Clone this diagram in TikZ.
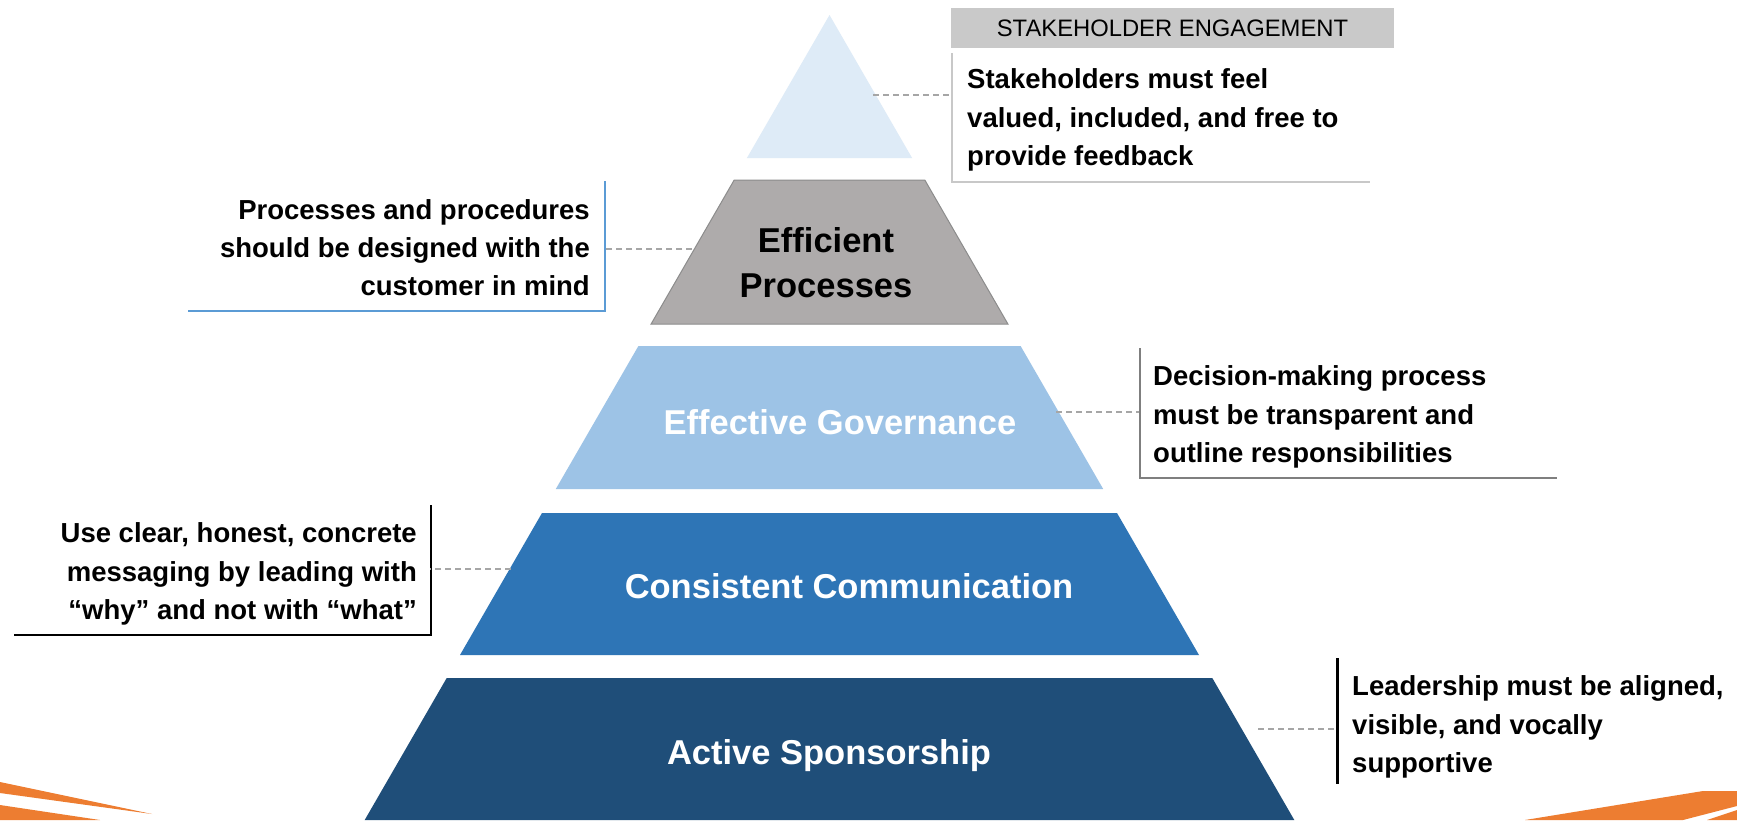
\documentclass[tikz,border=0pt]{standalone}
\usepackage{fontspec}
\setmainfont{Liberation Sans}
\definecolor{layA}{HTML}{DEEBF7}
\definecolor{layB}{HTML}{AEABAB}
\definecolor{layBedge}{HTML}{8C8C8C}
\definecolor{layC}{HTML}{9DC3E6}
\definecolor{layD}{HTML}{2E75B6}
\definecolor{layE}{HTML}{1F4E79}
\definecolor{accent}{HTML}{ED7D31}
\definecolor{leadgray}{HTML}{A6A6A6}
\definecolor{hdrgray}{HTML}{C9C9C9}
\definecolor{ruleA}{HTML}{C8C8C8}
\definecolor{ruleB}{HTML}{5B9BD5}
\definecolor{ruleC}{HTML}{7F7F7F}
\begin{document}
\begin{tikzpicture}[x=1pt,y=-1pt,
  desc/.style={inner sep=0pt, text=black, font=\fontsize{27.5}{38.2}\selectfont\bfseries},
  lbl/.style={inner sep=0pt, font=\fontsize{34.5}{45}\selectfont\bfseries},
  leader/.style={draw=leadgray, line width=2pt, dash pattern=on 6pt off 4pt},
  sidebar/.style={line width=2.5pt}]
% canvas
\fill[white] (0,0) rectangle (1737,820);
\useasboundingbox (0,0) rectangle (1737,820);

% corner accents
\fill[accent] (0,782) -- (152,814) -- (0,793) -- cycle;
\fill[accent] (0,805) -- (100,820) -- (0,820) -- cycle;
\fill[accent] (1525,820) -- (1703,791) -- (1737,791) -- (1737,806) -- (1683,820) -- cycle;
\fill[accent] (1707,820) -- (1737,810) -- (1737,820) -- cycle;

% pyramid bands (apex 829.5,15; sides at 60 degrees)
\fill[layA] (829.5,15) -- (912.1,158) -- (746.9,158) -- cycle;
\filldraw[fill=layB, draw=layBedge, line width=1pt] (734.2,180) -- (924.8,180) -- (1007.9,324) -- (651.1,324) -- cycle;
\fill[layC] (638.4,346) -- (1020.6,346) -- (1103.2,489) -- (555.8,489) -- cycle;
\fill[layD] (542,513) -- (1117,513) -- (1199,655) -- (460,655) -- cycle;
\fill[layE] (446.7,678) -- (1212.3,678) -- (1294.3,820) -- (364.7,820) -- cycle;

% band titles
\node[lbl, text=black, align=center] (effproc) at (826,265.5) {\strut Efficient\\\strut Processes};
\node[lbl, text=white, anchor=base] (effgov) at (840,434) {Effective Governance};
\node[lbl, text=white, anchor=base] (conscomm) at (849,598) {Consistent Communication};
\node[lbl, text=white, anchor=base] (actspon) at (829,764) {Active Sponsorship};

% header tag
\node[fill=hdrgray, minimum width=443pt, minimum height=40pt, inner sep=0pt,
      font=\fontsize{23.8}{28}\selectfont] (hdr) at (1172.5,28) {STAKEHOLDER ENGAGEMENT};

% descriptions
\node[desc, anchor=north west, align=left] (dA) at (967,62) {\strut Stakeholders must feel\\\strut valued, included, and free to\\\strut provide feedback};
\node[desc, anchor=north east, align=right] (dB) at (590,192.5) {\strut Processes and procedures\\\strut should be designed with the\\\strut customer in mind};
\node[desc, anchor=north west, align=left] (dC) at (1153,359) {\strut Decision-making process\\\strut must be transparent and\\\strut outline responsibilities};
\node[desc, anchor=north east, align=right] (dD) at (417,516) {\strut Use clear, honest, concrete\\\strut messaging by leading with\\\strut “why” and not with “what”};
\node[desc, anchor=north west, align=left] (dE) at (1352,669) {\strut Leadership must be aligned,\\\strut visible, and vocally\\\strut supportive};

% side rules of the description boxes
\draw[line width=2pt, draw=ruleA] (952,53) -- (952,182) -- (1370,182);
\draw[sidebar, draw=ruleB] (605,181) -- (605,311) -- (188,311);
\draw[sidebar, draw=ruleC] (1140,348) -- (1140,478) -- (1557,478);
\draw[sidebar, draw=black] (431,505) -- (431,635) -- (14,635);
\draw[line width=3pt, draw=black] (1337,658) -- (1337,784);

% leader lines from the bands to the boxes
\coordinate (bandA) at (873,95);   \coordinate (boxA) at (951,95);
\coordinate (bandB) at (692,249);  \coordinate (boxB) at (604,249);
\coordinate (bandC) at (1056,412); \coordinate (boxC) at (1139,412);
\coordinate (bandD) at (511,569);  \coordinate (boxD) at (430,569);
\coordinate (bandE) at (1258,729); \coordinate (boxE) at (1336,729);
\draw[leader] (bandA) -- (boxA);
\draw[leader] (bandB) -- (boxB);
\draw[leader] (bandC) -- (boxC);
\draw[leader] (bandD) -- (boxD);
\draw[leader] (bandE) -- (boxE);
\end{tikzpicture}
\end{document}
